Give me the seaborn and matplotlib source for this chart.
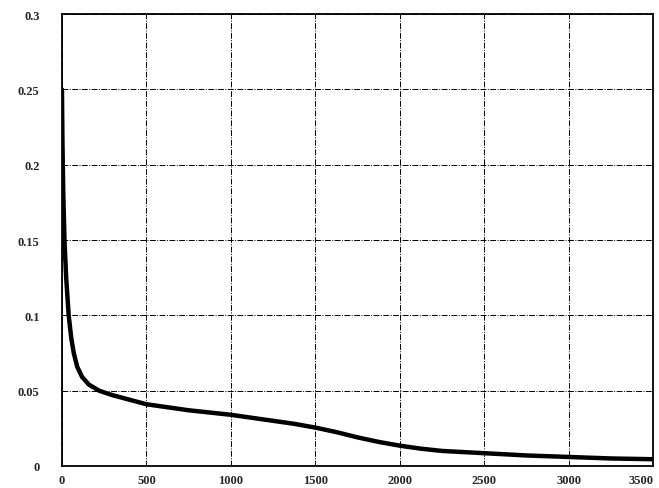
import matplotlib
matplotlib.use('Agg')
import matplotlib.pyplot as plt
import seaborn as sns
import pandas as pd
from matplotlib.ticker import FuncFormatter

# curve
iterations = [0, 3, 8, 15, 25, 40, 55, 70, 90, 120, 160, 220, 300, 500, 750,
              1000, 1250, 1375, 1500, 1625, 1750, 1875, 2000, 2125, 2250, 2500,
              2750, 3000, 3250, 3500]
error = [0.25, 0.215, 0.18, 0.15, 0.125, 0.1, 0.085, 0.075, 0.066, 0.059, 0.054,
         0.05, 0.047, 0.041, 0.037, 0.034, 0.030, 0.028, 0.0255, 0.0225, 0.019,
         0.016, 0.0135, 0.0115, 0.010, 0.0085, 0.007, 0.006, 0.005, 0.0045]
xticks = [0, 500, 1000, 1500, 2000, 2500, 3000, 3500]
yticks = [0, 0.05, 0.1, 0.15, 0.2, 0.25, 0.3]

df = pd.DataFrame({'iter': iterations, 'err': error})

sns.set_style('white')
plt.rcParams['font.family'] = ['Liberation Serif', 'DejaVu Serif']

fig = plt.figure(figsize=(6.59, 4.89), dpi=100)
ax = fig.add_axes([0.094, 0.045, 0.897, 0.924])

sns.lineplot(data=df, x='iter', y='err', ax=ax, color='black', linewidth=3.2)

ax.set_xlim(0, 3500)
ax.set_ylim(0, 0.3)
ax.set_xticks(xticks)
ax.set_yticks(yticks)
ax.yaxis.set_major_formatter(FuncFormatter(lambda v, p: f'{v:g}'))
ax.grid(True, color='black', linestyle=(0, (6, 1.5, 1, 1.5)), linewidth=0.7)
ax.set_xlabel('')
ax.set_ylabel('')
for s in ax.spines.values():
    s.set_color('black')
    s.set_linewidth(1.3)
ax.tick_params(axis='x', length=0, labelsize=9, pad=6)
ax.tick_params(axis='y', length=0, labelsize=9, pad=16)
for lab in ax.get_xticklabels() + ax.get_yticklabels():
    lab.set_fontweight('bold')
ax.get_xticklabels()[-1].set_horizontalalignment('right')

fig.savefig('out.png', dpi=100)
